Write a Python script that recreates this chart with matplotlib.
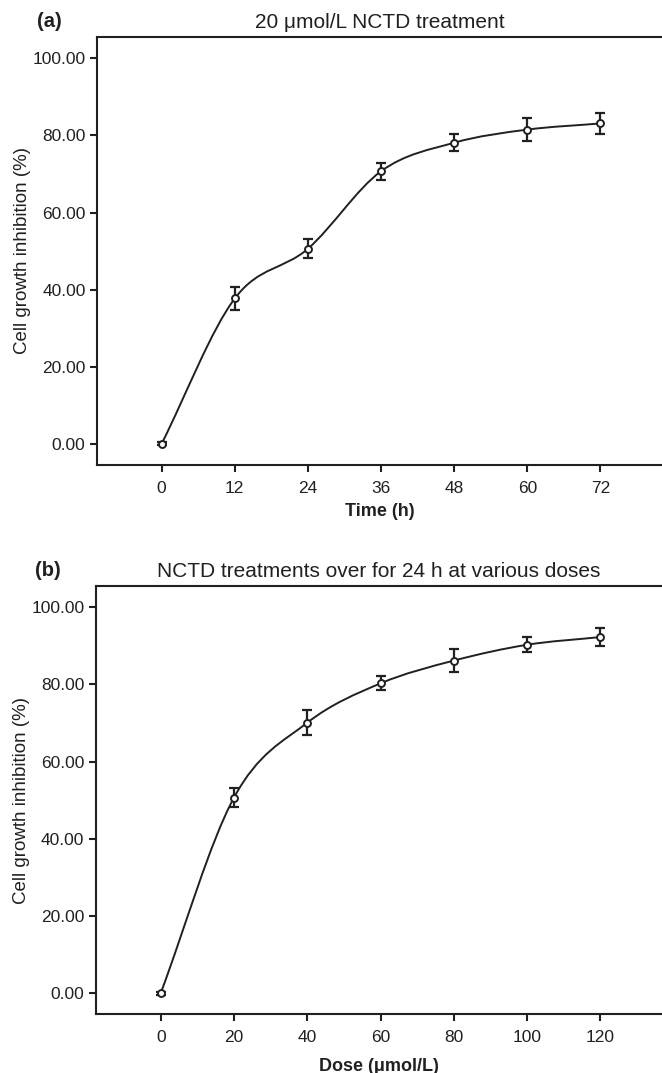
import numpy as np
import matplotlib
matplotlib.use('Agg')
import matplotlib.pyplot as plt
from matplotlib.path import Path
from matplotlib.patches import PathPatch

plt.rcParams['font.family'] = ['Liberation Sans', 'DejaVu Sans']

INK = '#231f20'

# panel (a): time course at 20 umol/L
time_h = [0, 12, 24, 36, 48, 60, 72]
time_inhib = [0.0, 37.7, 50.6, 70.7, 78.1, 81.5, 83.1]
time_err = [0.4, 2.9, 2.5, 2.2, 2.2, 2.9, 2.8]

# panel (b): dose response at 24 h
dose = [0, 20, 40, 60, 80, 100, 120]
dose_inhib = [0.0, 50.7, 70.1, 80.3, 86.2, 90.3, 92.3]
dose_err = [0.4, 2.5, 3.2, 1.8, 3.0, 2.0, 2.4]

y_ticks = [0, 20, 40, 60, 80, 100]


def smooth_path(x, y):
    """Cubic Bezier path through the points (Catmull-Rom tangents)."""
    x = np.asarray(x, float)
    y = np.asarray(y, float)
    n = len(x)
    m = np.zeros(n)
    m[0] = (y[1] - y[0]) / (x[1] - x[0])
    m[-1] = (y[-1] - y[-2]) / (x[-1] - x[-2])
    for i in range(1, n - 1):
        m[i] = (y[i + 1] - y[i - 1]) / (x[i + 1] - x[i - 1])
    verts = [(x[0], y[0])]
    codes = [Path.MOVETO]
    for i in range(n - 1):
        h = x[i + 1] - x[i]
        verts += [(x[i] + h / 3, y[i] + m[i] * h / 3),
                  (x[i + 1] - h / 3, y[i + 1] - m[i + 1] * h / 3),
                  (x[i + 1], y[i + 1])]
        codes += [Path.CURVE4] * 3
    return Path(verts, codes)


def draw_panel(ax, x, y, err, xlim, title, xlabel, tag, xlabelpad):
    ax.add_patch(PathPatch(smooth_path(x, y), facecolor='none',
                           edgecolor=INK, lw=1.4, zorder=2))
    ax.errorbar(x, y, yerr=err, fmt='none', ecolor=INK, elinewidth=1.6,
                capsize=3.5, capthick=1.6, zorder=3)
    ax.plot(x, y, 'o', ms=5, mfc='white', mec=INK, mew=1.4, zorder=4)

    ax.set_xlim(*xlim)
    ax.set_ylim(-5.5, 105.6)
    ax.set_xticks(x)
    ax.set_yticks(y_ticks)
    ax.set_yticklabels([f'{v:.2f}' for v in y_ticks])

    for side in ['left', 'bottom', 'top']:
        ax.spines[side].set_linewidth(1.5)
        ax.spines[side].set_color(INK)
    ax.spines['right'].set_visible(False)
    ax.tick_params(direction='out', length=5, width=1.5, color=INK,
                   labelsize=12.5, labelcolor=INK)
    ax.tick_params(axis='y', pad=3)
    ax.tick_params(axis='x', pad=6.5)

    ax.set_title(title, fontsize=15, color=INK, pad=6)
    ax.set_xlabel(xlabel, fontsize=13, fontweight='bold', color=INK,
                  labelpad=xlabelpad)
    ax.set_ylabel('Cell growth inhibition (%)', fontsize=13.5, color=INK,
                  labelpad=1)
    ax.text(-0.106, 1.035, tag, transform=ax.transAxes, fontsize=14.5,
            fontweight='bold', color=INK, ha='left', va='center')


fig = plt.figure(figsize=(6.62, 10.73), dpi=100)
ax_a = fig.add_axes([0.146, 0.5666, 0.854, 0.3992])
ax_b = fig.add_axes([0.1443, 0.0547, 0.8557, 0.3994])

draw_panel(ax_a, time_h, time_inhib, time_err, (-10.66, 82.1),
           '20 \u03bcmol/L NCTD treatment', 'Time (h)', '(a)', 5)
draw_panel(ax_b, dose, dose_inhib, dose_err, (-17.8, 136.8),
           'NCTD treatments over for 24 h at various doses',
           'Dose (\u03bcmol/L)', '(b)', 9)

fig.savefig('out.png', dpi=100)
